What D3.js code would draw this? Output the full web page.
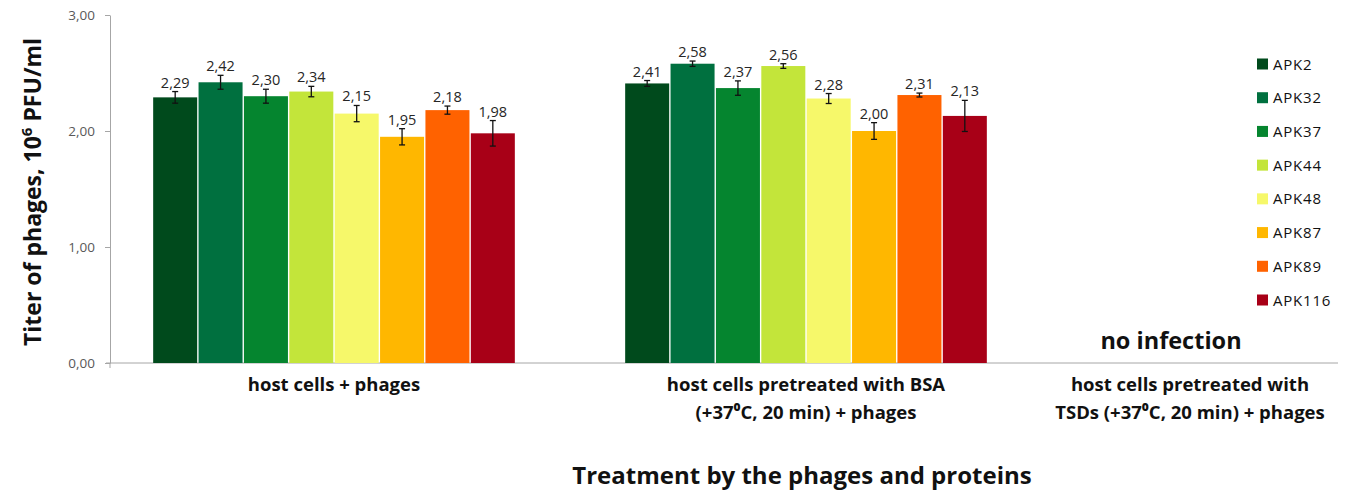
<!DOCTYPE html>
<html>
<head>
<meta charset="utf-8">
<script src="https://cdn.jsdelivr.net/npm/d3@7"></script>
<style>
  body { margin: 0; background: #fff; }
  text { font-family: "Open Sans", Lato, sans-serif; }
</style>
</head>
<body>
<div id="chart"></div>
<script>
const categories = ["host cells + phages", "host cells pretreated with BSA|(+37⁰C, 20 min) + phages", "host cells pretreated with|TSDs (+37⁰C, 20 min) + phages"];
const phages = ["APK2", "APK32", "APK37", "APK44", "APK48", "APK87", "APK89", "APK116"];
const colors = ["#004a1c", "#00703f", "#05852f", "#c3e53a", "#f6f86a", "#ffb700", "#ff6200", "#a80017"];
const hostValues = [2.29, 2.42, 2.30, 2.34, 2.15, 1.95, 2.18, 1.98];
const hostErrors = [0.05, 0.06, 0.06, 0.045, 0.07, 0.07, 0.035, 0.11];
const bsaValues = [2.41, 2.58, 2.37, 2.56, 2.28, 2.00, 2.31, 2.13];
const bsaErrors = [0.025, 0.023, 0.062, 0.02, 0.043, 0.072, 0.017, 0.134];
const yTicks = [0, 1, 2, 3];

const width = 1346, height = 494;
const svg = d3.select("#chart").append("svg")
    .attr("width", width)
    .attr("height", height);

const y = d3.scaleLinear().domain([0, 3]).range([363, 15]);
const x = d3.scaleBand().domain(categories).range([98, 1514]);
const xs = d3.scaleBand().domain(phages).range([0, x.bandwidth() * 0.772]).padding(0.03);
const groupOffset = (x.bandwidth() - xs.range()[1]) / 2;

const fmt = v => d3.format(".2f")(v).replace(".", ",");

// y axis
const yAxis = svg.append("g")
    .attr("transform", "translate(110,0)")
    .call(d3.axisLeft(y).tickValues(yTicks).tickFormat(fmt).tickSize(5).tickSizeOuter(0));
yAxis.select(".domain").attr("stroke", "#a6a6a6");
yAxis.selectAll(".tick line").attr("stroke", "#a6a6a6");
yAxis.selectAll(".tick text").attr("fill", "#595959").style("font-size", "13.5px")
    .style("font-family", "Open Sans").attr("x", -15);

// x axis line
svg.append("line")
    .attr("x1", 106).attr("x2", 1338)
    .attr("y1", y(0)).attr("y2", y(0))
    .attr("stroke", "#a6a6a6");
svg.append("line")
    .attr("x1", 110).attr("x2", 110)
    .attr("y1", y(0)).attr("y2", y(0) + 5)
    .attr("stroke", "#a6a6a6");

const groups = [
  { cat: categories[0], values: hostValues, errors: hostErrors },
  { cat: categories[1], values: bsaValues, errors: bsaErrors }
];

groups.forEach(gr => {
  const g = svg.append("g").attr("transform", `translate(${x(gr.cat) + groupOffset},0)`);
  const rows = phages.map((p, i) => ({ p, v: gr.values[i], e: gr.errors[i], c: colors[i] }));

  g.selectAll("rect").data(rows).join("rect")
      .attr("x", d => xs(d.p))
      .attr("width", xs.bandwidth())
      .attr("y", d => y(d.v))
      .attr("height", d => y(0) - y(d.v))
      .attr("fill", d => d.c);

  const eb = g.selectAll("g.err").data(rows).join("g").attr("class", "err")
      .attr("stroke", "#111").attr("stroke-width", 1.3);
  eb.append("line")
      .attr("x1", d => xs(d.p) + xs.bandwidth() / 2).attr("x2", d => xs(d.p) + xs.bandwidth() / 2)
      .attr("y1", d => y(d.v + d.e)).attr("y2", d => y(d.v - d.e));
  eb.append("line")
      .attr("x1", d => xs(d.p) + xs.bandwidth() / 2 - 3).attr("x2", d => xs(d.p) + xs.bandwidth() / 2 + 3)
      .attr("y1", d => y(d.v + d.e)).attr("y2", d => y(d.v + d.e));
  eb.append("line")
      .attr("x1", d => xs(d.p) + xs.bandwidth() / 2 - 3).attr("x2", d => xs(d.p) + xs.bandwidth() / 2 + 3)
      .attr("y1", d => y(d.v - d.e)).attr("y2", d => y(d.v - d.e));

  g.selectAll("text.lbl").data(rows).join("text").attr("class", "lbl")
      .attr("x", d => xs(d.p) + xs.bandwidth() / 2)
      .attr("y", d => y(d.v + d.e) - 4)
      .attr("text-anchor", "middle")
      .attr("fill", "#262626")
      .style("font-size", "14.5px")
      .text(d => fmt(d.v));
});

// category labels
const catShift = [0, 0, -88];
categories.forEach((c, i) => {
  const cx = x(c) + x.bandwidth() / 2 + catShift[i];
  const t = svg.append("text")
      .attr("y", 391)
      .attr("text-anchor", "middle")
      .attr("fill", "#111")
      .style("font-size", "18.5px")
      .style("font-weight", "bold");
  c.split("|").forEach((line, j) => {
    t.append("tspan").attr("x", cx).attr("dy", j ? 28 : 0).text(line);
  });
});

svg.append("text")
    .attr("x", x(categories[2]) + x.bandwidth() / 2 - 107)
    .attr("y", 349)
    .attr("text-anchor", "middle")
    .attr("fill", "#111")
    .style("font-size", "23.5px")
    .style("font-weight", "bold")
    .text("no infection");

// axis titles
svg.append("text")
    .attr("transform", "translate(41,192) rotate(-90)")
    .attr("text-anchor", "middle")
    .attr("fill", "#111")
    .style("font-size", "23px")
    .style("font-weight", "bold")
    .html('Titer of phages, 10<tspan dy="-9" style="font-size:15px">6</tspan><tspan dy="9"> PFU/ml</tspan>');

svg.append("text")
    .attr("x", 802)
    .attr("y", 484)
    .attr("text-anchor", "middle")
    .attr("fill", "#111")
    .style("font-size", "24px")
    .style("font-weight", "bold")
    .text("Treatment by the phages and proteins");

// legend
const ly = d3.scalePoint().domain(phages).range([64, 300]);
const lg = svg.append("g");
lg.selectAll("rect").data(phages).join("rect")
    .attr("x", 1257).attr("y", d => ly(d) - 5.5)
    .attr("width", 11).attr("height", 11)
    .attr("fill", (d, i) => colors[i]);
lg.selectAll("text").data(phages).join("text")
    .attr("x", 1273).attr("y", d => ly(d) + 5.5)
    .attr("fill", "#111")
    .style("font-size", "15px")
    .style("letter-spacing", "0.8px")
    .text(d => d);
</script>
</body>
</html>
